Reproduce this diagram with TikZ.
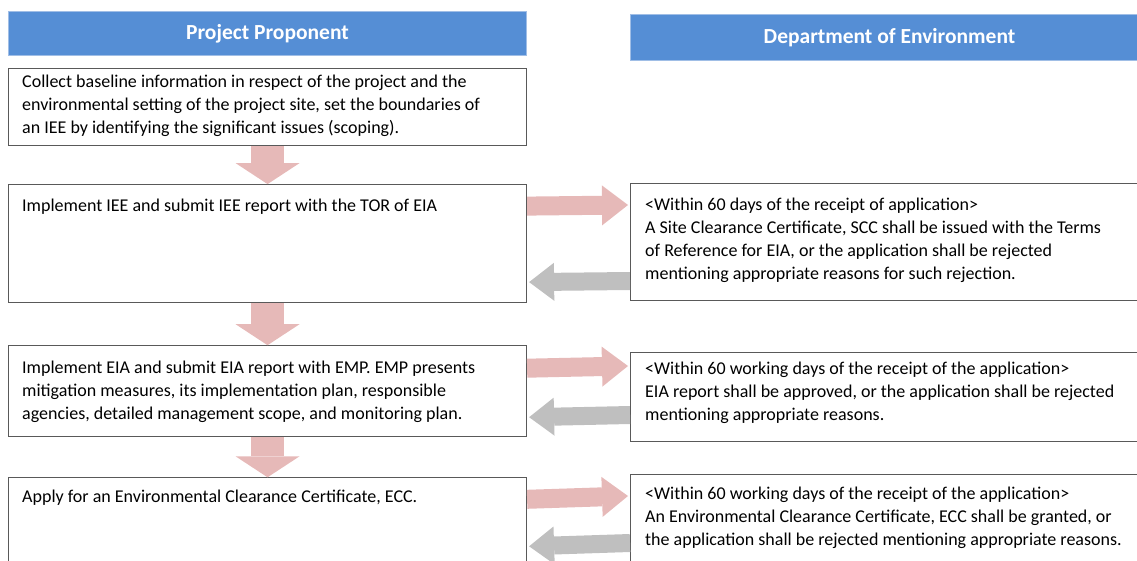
\documentclass[tikz,border=0pt]{standalone}
\usepackage{fontspec}
\setmainfont{Carlito}
\usepackage{xcolor}
\definecolor{colorHead}{RGB}{85,142,213}
\definecolor{colorHeadEdge}{RGB}{160,190,230}
\definecolor{colorForward}{RGB}{230,185,184}
\definecolor{colorBack}{RGB}{191,191,191}
\definecolor{colorEdge}{RGB}{89,89,89}
\usetikzlibrary{arrows.meta, positioning}
\tikzset{
  head/.style={fill=colorHead, draw=colorHeadEdge, line width=1pt, text=white, anchor=north west, minimum width=518pt, inner sep=0pt, font=\bfseries\fontsize{21.5}{24}\selectfont},
  stepbox/.style={draw=colorEdge, line width=1.1pt, anchor=north west, minimum width=518pt, inner sep=0pt},
  steptext/.style={anchor=north west, align=left, inner sep=0pt, font=\fontsize{18}{23}\selectfont},
  fwd/.style={draw=colorForward, line width=19pt, -{Triangle[length=26pt, width=40pt, line width=0pt]}},
  back/.style={draw=colorBack, line width=18pt, -{Triangle[length=25pt, width=38pt, line width=0pt]}},
  down/.style={draw=colorForward, line width=33pt, -{Triangle[length=21pt, width=64pt, line width=0pt]}}
}

\begin{document}
\begin{tikzpicture}[x=1pt, y=-1pt]
\useasboundingbox (0,0) rectangle (1137,561);
\clip (0,0) rectangle (1137,561);
\node[head, minimum height=44pt] (h1) at (8,11) {Project Proponent};
\node[head, minimum height=46pt] (h2) at (630,14) {Department of Environment};
\node[stepbox, minimum height=77pt] (s1) at (8,68) {};
\node[stepbox, minimum height=118pt, below=38pt of s1.south west, anchor=north west] (s2) {};
\node[stepbox, minimum height=91pt, below=42pt of s2.south west, anchor=north west] (s3) {};
\node[stepbox, minimum height=100pt, below=40pt of s3.south west, anchor=north west] (s4) {};
\node[stepbox, minimum height=117pt] (r1) at (630,183) {};
\node[stepbox, minimum height=89pt] (r2) at (630,352) {};
\node[stepbox, minimum height=100pt] (r3) at (630,474) {};
\node[steptext, below right=3pt and 14pt of s1.north west] (t1) {\strut Collect baseline information in respect of the project and the\\environmental setting of the project site, set the boundaries of\\an IEE by identifying the significant issues (scoping).};
\node[steptext, below right=11pt and 14pt of s2.north west] (t2) {\strut Implement IEE and submit IEE report with the TOR of EIA};
\node[steptext, below right=12pt and 14pt of s3.north west] (t3) {\strut Implement EIA and submit EIA report with EMP. EMP presents\\mitigation measures, its implementation plan, responsible\\agencies, detailed management scope, and monitoring plan.};
\node[steptext, below right=9pt and 14pt of s4.north west] (t4) {\strut Apply for an Environmental Clearance Certificate, ECC.};
\node[steptext, below right=11pt and 15pt of r1.north west] (u1) {\strut <Within 60 days of the receipt of application>\\A Site Clearance Certificate, SCC shall be issued with the Terms\\of Reference for EIA, or the application shall be rejected\\mentioning appropriate reasons for such rejection.};
\node[steptext, below right=6pt and 15pt of r2.north west] (u2) {\strut <Within 60 working days of the receipt of the application>\\EIA report shall be approved, or the application shall be rejected\\mentioning appropriate reasons.};
\node[steptext, below right=9pt and 15pt of r3.north west] (u3) {\strut <Within 60 working days of the receipt of the application>\\An Environmental Clearance Certificate, ECC shall be granted, or\\the application shall be rejected mentioning appropriate reasons.};
\draw[down] (s1.south) -- (s2.north);
\draw[down] (s2.south) -- (s3.north);
\draw[down] (s3.south) -- (s4.north);
\draw[fwd] ([yshift=-22pt]s2.north east) -- ([yshift=-22pt, xshift=-2pt]r1.north west);
\draw[back] ([yshift=-98pt]r1.north west) -- ([yshift=-98pt, xshift=2pt]s2.north east);
\draw[fwd] ([yshift=-23pt]s3.north east) -- ([yshift=-14pt, xshift=-2pt]r2.north west);
\draw[back] ([yshift=-63pt]r2.north west) -- ([yshift=-72pt, xshift=2pt]s3.north east);
\draw[fwd] ([yshift=-22pt]s4.north east) -- ([yshift=-22pt, xshift=-2pt]r3.north west);
\draw[back] ([yshift=-69pt]r3.north west) -- ([yshift=-69pt, xshift=2pt]s4.north east);
\end{tikzpicture}
\end{document}
